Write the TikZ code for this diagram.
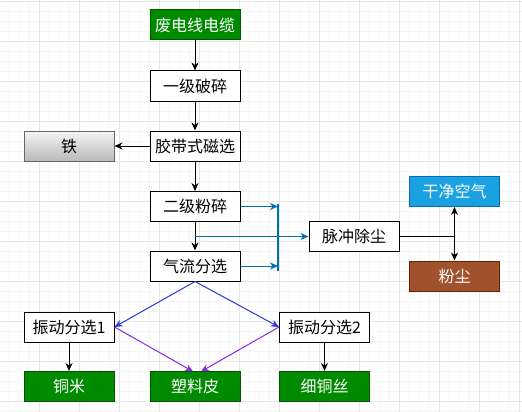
\documentclass[tikz,border=0pt]{standalone}
\usepackage{fontspec}
\newfontfamily\cjk{Noto Sans CJK SC}
\usetikzlibrary{arrows.meta}
\definecolor{gfill}{HTML}{008A00}
\definecolor{gline}{HTML}{005700}
\definecolor{bfill}{HTML}{1BA1E2}
\definecolor{bline}{HTML}{006EAF}
\definecolor{rfill}{HTML}{A0522D}
\definecolor{rline}{HTML}{6D1F00}
\definecolor{grayline}{HTML}{666666}
\definecolor{flowblue}{HTML}{006EAF}
\definecolor{diablue}{HTML}{2A3BD0}
\definecolor{diapurple}{HTML}{8A2BE2}
\definecolor{gridmajor}{HTML}{E6E6E6}
\definecolor{gridminor}{HTML}{F6F6F6}
\tikzset{
  box/.style={draw, line width=1pt, minimum width=90pt, minimum height=30pt, inner sep=0pt, font=\cjk\fontsize{16}{19}\selectfont},
  plainbox/.style={box, fill=white},
  greenbox/.style={box, draw=gline, fill=gfill, text=white},
  bluebox/.style={box, draw=bline, fill=bfill, text=white},
  brownbox/.style={box, draw=rline, fill=rfill, text=white},
  graybox/.style={box, draw=grayline, top color=gray!8, bottom color=gray!55},
  arr/.style={-{Stealth[length=8pt,width=7pt,inset=2.5pt]}, line width=1pt},
  blk/.style={arr, black},
}
\begin{document}
\begin{tikzpicture}[x=1pt,y=-1pt]
\useasboundingbox (0,0) rectangle (522,412);
\fill[white] (0,0) rectangle (522,412);
% grid
\foreach \i in {0,...,53} {
  \draw[gridminor, line width=0.8pt] ({-1+10*\i},0) -- ({-1+10*\i},412);
}
\foreach \j in {0,...,42} {
  \draw[gridminor, line width=0.8pt] (0,{1.7+10*\j}) -- (522,{1.7+10*\j});
}
\foreach \i in {0,...,13} {
  \draw[gridmajor, line width=0.8pt] ({-1+40*\i},0) -- ({-1+40*\i},412);
}
\foreach \j in {0,...,10} {
  \draw[gridmajor, line width=0.8pt] (0,{1.7+40*\j}) -- (522,{1.7+40*\j});
}
% nodes
\node[greenbox] (n1) at (195,25) {废电线电缆};
\node[plainbox] (n2) at (195,86) {一级破碎};
\node[plainbox] (n3) at (195,146) {胶带式磁选};
\node[graybox]  (fe) at (69,146) {铁};
\node[plainbox] (n4) at (195,206.5) {二级粉碎};
\node[plainbox] (n5) at (195,266) {气流分选};
\node[plainbox] (dc) at (354,236.5) {脉冲除尘};
\node[bluebox]  (air) at (454.5,191.5) {干净空气};
\node[brownbox] (dust) at (454.5,276) {粉尘};
\node[plainbox] (v1) at (69,327) {振动分选1};
\node[plainbox] (v2) at (324.5,327) {振动分选2};
\node[greenbox] (cu) at (69,386.5) {铜米};
\node[greenbox] (pl) at (195,386.5) {塑料皮};
\node[greenbox] (fw) at (324.5,386.5) {细铜丝};
% coordinates
\coordinate (bt) at (278,204);
\coordinate (bb) at (278,271);
\coordinate (mid) at (195,236.5);
\coordinate (split) at (454.5,236.5);
\coordinate (plL) at (193,371.5);
\coordinate (plR) at (201,371.5);
% black connectors
\draw[blk] (n1) -- (n2);
\draw[blk] (n2) -- (n3);
\draw[blk] (n3) -- (fe);
\draw[blk] (n3) -- (n4);
\draw[blk] (n4) -- (n5);
\draw[blk] (v1) -- (cu);
\draw[blk] (v2) -- (fw);
\draw[line width=1pt] (dc.east) -- (split);
\draw[blk] (split) -- (air);
\draw[blk] (split) -- (dust);
% blue flow connectors
\draw[flowblue, line width=2pt] (bt) -- (bb);
\draw[arr, flowblue] (n4.east) -- (n4.east -| bt);
\draw[arr, flowblue] (n5.east) -- (n5.east -| bt);
\draw[arr, flowblue] (mid) -- (dc.west);
% diamond
\draw[arr, diablue] (n5.south) -- (v1.east);
\draw[arr, diablue] (n5.south) -- (v2.west);
\draw[arr, diapurple] (v1.east) -- (plL);
\draw[arr, diapurple] (v2.west) -- (plR);
\end{tikzpicture}
\end{document}
